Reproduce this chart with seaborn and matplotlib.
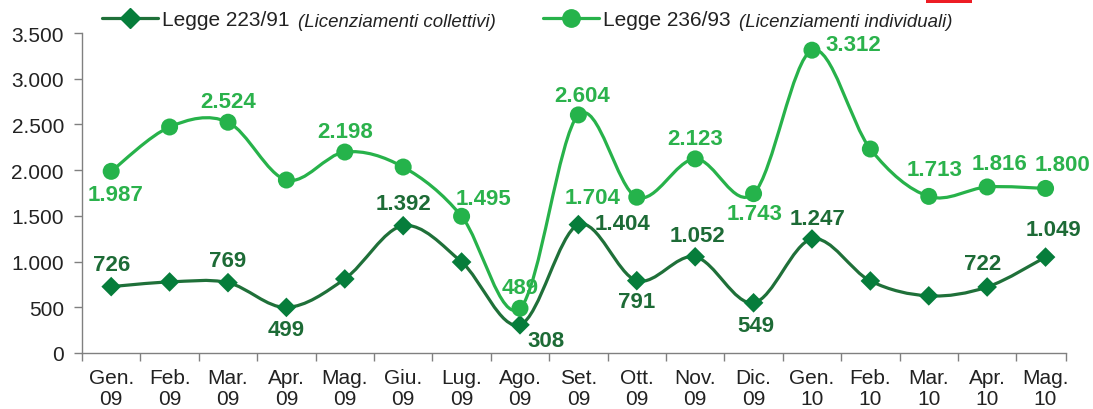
import matplotlib
matplotlib.use("Agg")
import numpy as np
import pandas as pd
import matplotlib.pyplot as plt
import seaborn as sns
from matplotlib.path import Path
from matplotlib.patches import PathPatch, Rectangle
from matplotlib.lines import Line2D
from matplotlib.ticker import FuncFormatter, FixedLocator
from matplotlib.font_manager import FontProperties

# ---------------- data ----------------
months = ["Gen.\n09", "Feb.\n09", "Mar.\n09", "Apr.\n09", "Mag.\n09", "Giu.\n09",
          "Lug.\n09", "Ago.\n09", "Set.\n09", "Ott.\n09", "Nov.\n09", "Dic.\n09",
          "Gen.\n10", "Feb.\n10", "Mar.\n10", "Apr.\n10", "Mag.\n10"]
collettivi = [726, 777, 769, 499, 810, 1392, 995, 308, 1404, 791, 1052, 549,
              1247, 788, 625, 722, 1049]
individuali = [1987, 2472, 2524, 1892, 2198, 2034, 1495, 489, 2604, 1704, 2123, 1743,
               3312, 2231, 1713, 1816, 1800]
collettivi_labelled = [1, 0, 1, 1, 0, 1, 0, 1, 1, 1, 1, 1, 1, 0, 0, 1, 1]
individuali_labelled = [1, 0, 1, 0, 1, 0, 1, 1, 1, 1, 1, 1, 1, 0, 1, 1, 1]
series_names = ["Legge 223/91", "Legge 236/93"]
series_notes = ["(Licenziamenti collettivi)", "(Licenziamenti individuali)"]
y_ticks = [0, 500, 1000, 1500, 2000, 2500, 3000, 3500]

# ---------------- style ----------------
# label offsets (points) for each point label
off_coll = [(0, 16), None, (0, 16), (0, -16), None, (0, 16), None, (19, -11),
            (32, 1), (0, -15), (2, 15), (2, -16.5), (4, 15), None, None, (-3, 17), (6, 20)]
off_ind = [(3, -16.5), None, (0, 15), None, (0, 14.5), None, (16, 13), (0, 15),
           (3, 14), (-32, 0), (0, 14.5), (1, -14.5), (29.5, 4), None, (4, 19), (9, 17), (12, 17)]

DARK_LINE = "#1f7039"
DARK_MARK = "#067d3b"
DARK_TXT = "#1d6b36"
LIGHT_LINE = "#27b24a"
LIGHT_MARK = "#25b34b"
LIGHT_TXT = "#2bb24c"
GRAY = "#808080"

sns.set_theme(style="white")
plt.rcParams["font.family"] = ["Liberation Sans", "DejaVu Sans"]

W, H = 1093, 410
fig = plt.figure(figsize=(W / 100, H / 100), dpi=100)
ax = fig.add_axes([82 / W, 1 - 354 / H, (1066 - 82) / W, 320 / H])

x = np.arange(len(months))
df = pd.DataFrame({"x": x, "coll": collettivi, "ind": individuali})


def smooth_path(xs, ys):
    pts = np.column_stack([xs, ys]).astype(float)
    n = len(pts)
    verts = [pts[0]]
    codes = [Path.MOVETO]
    for i in range(n - 1):
        p0 = pts[i - 1] if i > 0 else pts[i]
        p1 = pts[i]
        p2 = pts[i + 1]
        p3 = pts[i + 2] if i + 2 < n else pts[i + 1]
        c1 = p1 + (p2 - p0) / 6.0
        c2 = p2 - (p3 - p1) / 6.0
        verts += [c1, c2, p2]
        codes += [Path.CURVE4] * 3
    return Path(verts, codes)


for col, lc, mc, mk, ms in [("coll", DARK_LINE, DARK_MARK, "D", 100),
                            ("ind", LIGHT_LINE, LIGHT_MARK, "o", 150)]:
    patch = PathPatch(smooth_path(df["x"], df[col]), fill=False, edgecolor=lc,
                      lw=2.3, capstyle="round", joinstyle="round", zorder=2)
    ax.add_patch(patch)
    sns.scatterplot(data=df, x="x", y=col, marker=mk, s=ms, color=mc,
                    edgecolor="none", linewidth=0, ax=ax, zorder=3, legend=False)


def fmt(v):
    return f"{v:,.0f}".replace(",", ".")


for vals, flags, offs, c in [(collettivi, collettivi_labelled, off_coll, DARK_TXT),
                             (individuali, individuali_labelled, off_ind, LIGHT_TXT)]:
    for i, (v, f, o) in enumerate(zip(vals, flags, offs)):
        if f and o is not None:
            ax.annotate(fmt(v), (i, v), xytext=o, textcoords="offset points",
                        ha="center", va="center", fontsize=16, fontweight="bold",
                        color=c, zorder=4)

ax.set_xlim(-0.5, 16.35)
ax.set_ylim(0, 3500)
ax.set_xlabel("")
ax.set_ylabel("")
ax.set_xticks(x)
ax.set_xticklabels(months, fontsize=15, linespacing=1.12, color="#222222")
ax.xaxis.set_minor_locator(FixedLocator(list(np.arange(-0.5, 16, 1.0)) + [16.35]))
ax.tick_params(axis="x", which="major", length=0, pad=11)
ax.tick_params(axis="x", which="minor", length=6, width=1, color=GRAY, direction="out")
ax.set_yticks(y_ticks)
ax.yaxis.set_major_formatter(FuncFormatter(lambda v, p: fmt(v)))
ax.tick_params(axis="y", which="major", length=6, width=1, color=GRAY, direction="out",
               pad=7, labelsize=15, labelcolor="#222222")
ax.tick_params(axis="both", which="both", bottom=True, left=True)
for s in ["top", "right"]:
    ax.spines[s].set_visible(False)
for s in ["left", "bottom"]:
    ax.spines[s].set_color(GRAY)
    ax.spines[s].set_linewidth(1.0)
ax.grid(False)
ax.set_facecolor("white")

# legend
h1 = Line2D([], [], color=DARK_LINE, lw=2.3, marker="D", ms=10, mfc=DARK_MARK, mec=DARK_MARK)
h2 = Line2D([], [], color=LIGHT_LINE, lw=2.3, marker="o", ms=12.5, mfc=LIGHT_MARK, mec=LIGHT_MARK)
legs = []
for h, name, xpx in [(h1, series_names[0], 102), (h2, series_names[1], 543)]:
    lg = fig.legend([h], [name], loc="center left", bbox_to_anchor=(xpx / W, 1 - 21 / H),
                    frameon=False, borderpad=0, borderaxespad=0, handlelength=2.7,
                    handletextpad=0.2, fontsize=15)
    for t in lg.get_texts():
        t.set_color("#222222")
    legs.append(lg)

fig.canvas.draw()
renderer = fig.canvas.get_renderer()
fp = FontProperties(family="Liberation Sans", size=15)
desc = renderer.get_text_width_height_descent("lp", fp, ismath=False)[2]
for lg, note in zip(legs, series_notes):
    bb = lg.get_texts()[0].get_window_extent(renderer)
    fig.text((bb.x1 + 8) / W, (bb.y0 + desc) / H, note, fontsize=13.4, style="italic",
             color="#222222", va="baseline", ha="left")

fig.add_artist(Rectangle((926 / W, 1 - 4 / H), 46 / W, 4 / H, transform=fig.transFigure,
                         color="#ed1c24", lw=0))

fig.savefig("out.png", dpi=100, facecolor="white")
